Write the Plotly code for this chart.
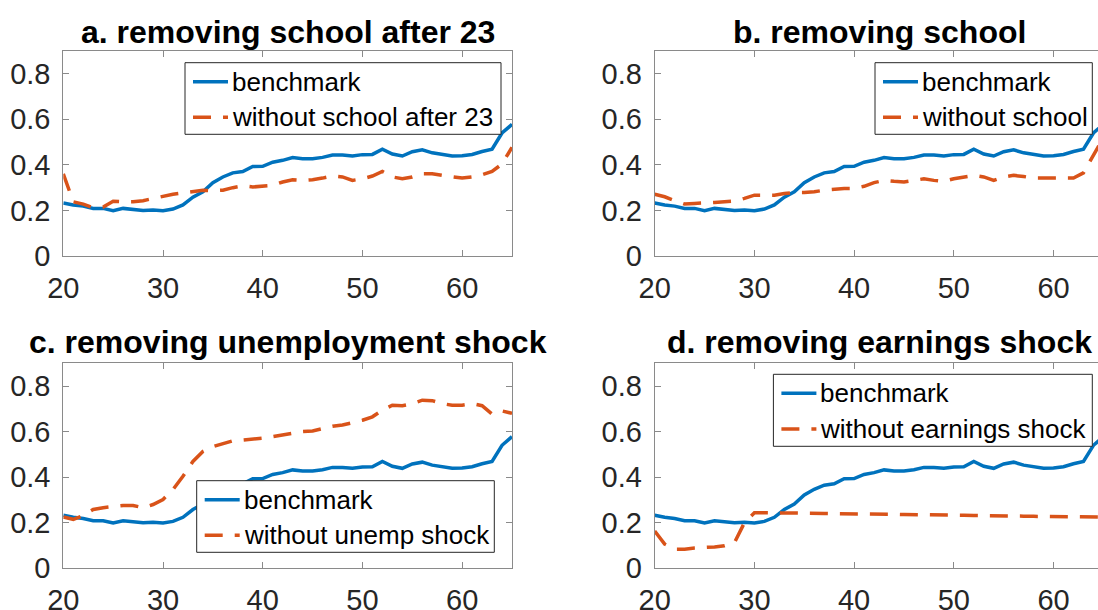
import plotly.graph_objects as go

ages = list(range(20, 66))

benchmark = [0.233, 0.224, 0.219, 0.209, 0.209, 0.199, 0.209, 0.206, 0.200, 0.202,
             0.199, 0.206, 0.224, 0.258, 0.282, 0.322, 0.347, 0.365, 0.371, 0.393,
             0.394, 0.412, 0.420, 0.432, 0.427, 0.427, 0.433, 0.443, 0.443, 0.439,
             0.445, 0.446, 0.469, 0.448, 0.439, 0.458, 0.466, 0.453, 0.446, 0.439,
             0.440, 0.446, 0.459, 0.469, 0.540, 0.578]

no_school_after23 = [0.361, 0.238, 0.228, 0.212, 0.215, 0.240, 0.238, 0.238, 0.243, 0.253,
                     0.260, 0.271, 0.277, 0.282, 0.289, 0.286, 0.289, 0.300, 0.308, 0.303,
                     0.308, 0.310, 0.325, 0.335, 0.332, 0.335, 0.342, 0.351, 0.347, 0.332,
                     0.339, 0.351, 0.371, 0.347, 0.339, 0.347, 0.361, 0.361, 0.354, 0.347,
                     0.342, 0.347, 0.357, 0.371, 0.404, 0.477]

no_school = [0.271, 0.260, 0.243, 0.228, 0.231, 0.232, 0.235, 0.238, 0.241, 0.253,
             0.267, 0.267, 0.267, 0.274, 0.279, 0.279, 0.282, 0.289, 0.293, 0.296,
             0.296, 0.306, 0.322, 0.332, 0.328, 0.325, 0.332, 0.339, 0.332, 0.328,
             0.339, 0.347, 0.354, 0.347, 0.332, 0.347, 0.354, 0.349, 0.342, 0.342,
             0.342, 0.339, 0.342, 0.365, 0.440, 0.520]

no_unemp_shock = [0.225, 0.215, 0.232, 0.258, 0.266, 0.270, 0.276, 0.276, 0.266, 0.280,
                  0.302, 0.346, 0.404, 0.469, 0.513, 0.534, 0.549, 0.560, 0.563, 0.566,
                  0.571, 0.578, 0.585, 0.595, 0.600, 0.603, 0.614, 0.624, 0.629, 0.639,
                  0.650, 0.665, 0.694, 0.716, 0.714, 0.723, 0.738, 0.736, 0.723, 0.716,
                  0.716, 0.723, 0.714, 0.677, 0.691, 0.680]

no_earn_shock = [0.164, 0.106, 0.084, 0.084, 0.089, 0.090, 0.094, 0.099, 0.113, 0.200,
                 0.244, 0.244, 0.244, 0.243, 0.242, 0.242, 0.241, 0.241, 0.240, 0.240,
                 0.240, 0.239, 0.239, 0.238, 0.237, 0.236, 0.236, 0.235, 0.235, 0.234,
                 0.233, 0.233, 0.232, 0.232, 0.231, 0.230, 0.230, 0.229, 0.228, 0.228,
                 0.227, 0.226, 0.226, 0.225, 0.225, 0.225]

titles = ["a. removing school after 23", "b. removing school",
          "c. removing unemployment shock", "d. removing earnings shock"]
bench_name = "benchmark"
alt_names = ["without school after 23", "without school",
             "without unemp shock", "without earnings shock"]
alt_series = [no_school_after23, no_school, no_unemp_shock, no_earn_shock]

W, H = 1098, 610
BLUE = "#0072BD"
ORANGE = "#D95319"
FONT = "Liberation Sans, Arial, sans-serif"
AX = "#8a8a8a"
TXT = "#262626"
DASH = "18px,12px"

# panel pixel boxes (left, right, top, bottom)
left_x = (63.3, 512.0)
right_x = (654.7, 1098.0)
top_y = (51.0, 256.0)
bot_y = (363.3, 568.3)
panels = [(left_x, top_y), (right_x, top_y), (left_x, bot_y), (right_x, bot_y)]
xr_right = 20 + (1098 - 654.7) / 448.7 * 45
xranges = [[20, 65], [20, xr_right], [20, 65], [20, xr_right]]
title_cx = [287.7, 879.0, 287.7, 879.0]
title_cy = [32.0, 32.0, 342.0, 342.0]
# legend boxes in pixels: (left, right, top, bottom)
legend_box = [(185.0, 501.0, 62.7, 134.3), (875.0, 1092.3, 62.7, 134.3),
              (196.7, 494.3, 480.7, 552.3), (773.4, 1092.3, 374.3, 446.3)]


def px(x):
    return x / W


def py(y):
    return 1 - y / H


fig = go.Figure()
layout = dict(width=W, height=H, margin=dict(l=0, r=0, t=0, b=0, autoexpand=False),
              paper_bgcolor="white", plot_bgcolor="white", showlegend=False,
              annotations=[], shapes=[])

for i in range(4):
    (x0, x1), (y0, y1) = panels[i]
    n = "" if i == 0 else str(i + 1)
    fig.add_trace(go.Scatter(x=ages, y=benchmark, mode="lines", name=bench_name,
                             line=dict(color=BLUE, width=3.5),
                             xaxis=f"x{n}", yaxis=f"y{n}"))
    fig.add_trace(go.Scatter(x=ages, y=alt_series[i], mode="lines", name=alt_names[i],
                             line=dict(color=ORANGE, width=3.5, dash=DASH),
                             xaxis=f"x{n}", yaxis=f"y{n}"))
    layout[f"xaxis{n}"] = dict(
        domain=[px(x0), px(x1)], range=xranges[i], anchor=f"y{n}", automargin=False,
        tickvals=[20, 30, 40, 50, 60], ticks="inside", ticklen=6, tickcolor=AX,
        showline=True, linecolor=AX, linewidth=1, mirror="ticks",
        showgrid=False, zeroline=False, ticklabelstandoff=6,
        tickfont=dict(family=FONT, size=29, color=TXT))
    layout[f"yaxis{n}"] = dict(
        domain=[py(y1), py(y0)], range=[0, 0.9], anchor=f"x{n}", automargin=False,
        tickvals=[0, 0.2, 0.4, 0.6, 0.8], ticktext=["0", "0.2", "0.4", "0.6", "0.8"],
        ticks="inside", ticklen=6, tickcolor=AX,
        showline=True, linecolor=AX, linewidth=1,
        mirror=("ticks" if i in (0, 2) else False),
        showgrid=False, zeroline=False, ticklabelstandoff=6,
        tickfont=dict(family=FONT, size=29, color=TXT))

    # title
    layout["annotations"].append(dict(
        text=f"<b>{titles[i]}</b>", x=px(title_cx[i]), y=py(title_cy[i]),
        xref="paper", yref="paper", xanchor="center", yanchor="middle",
        showarrow=False, font=dict(family=FONT, size=32, color="black")))

    # legend (box, samples, labels)
    bl, br, bt, bb = legend_box[i]
    layout["shapes"].append(dict(type="rect", xref="paper", yref="paper",
                                 x0=px(bl), x1=px(br), y0=py(bb), y1=py(bt),
                                 fillcolor="white", line=dict(color="#262626", width=1),
                                 layer="above"))
    rows = [(bench_name, BLUE, "solid", bt + 19.0), (alt_names[i], ORANGE, DASH, bt + 54.6)]
    for label, col, dash, ry in rows:
        layout["shapes"].append(dict(type="line", xref="paper", yref="paper",
                                     x0=px(bl + 8), x1=px(bl + 43), y0=py(ry), y1=py(ry),
                                     line=dict(color=col, width=3.5, dash=dash),
                                     layer="above"))
        layout["annotations"].append(dict(
            text=label, x=px(bl + 45), y=py(ry), xref="paper", yref="paper",
            xanchor="left", yanchor="middle", showarrow=False,
            font=dict(family=FONT, size=26, color="black")))

fig.update_layout(**layout)
fig.write_html("out.html", config={"displayModeBar": False},
               post_script="document.body.style.margin='0';document.body.style.padding='0';")
